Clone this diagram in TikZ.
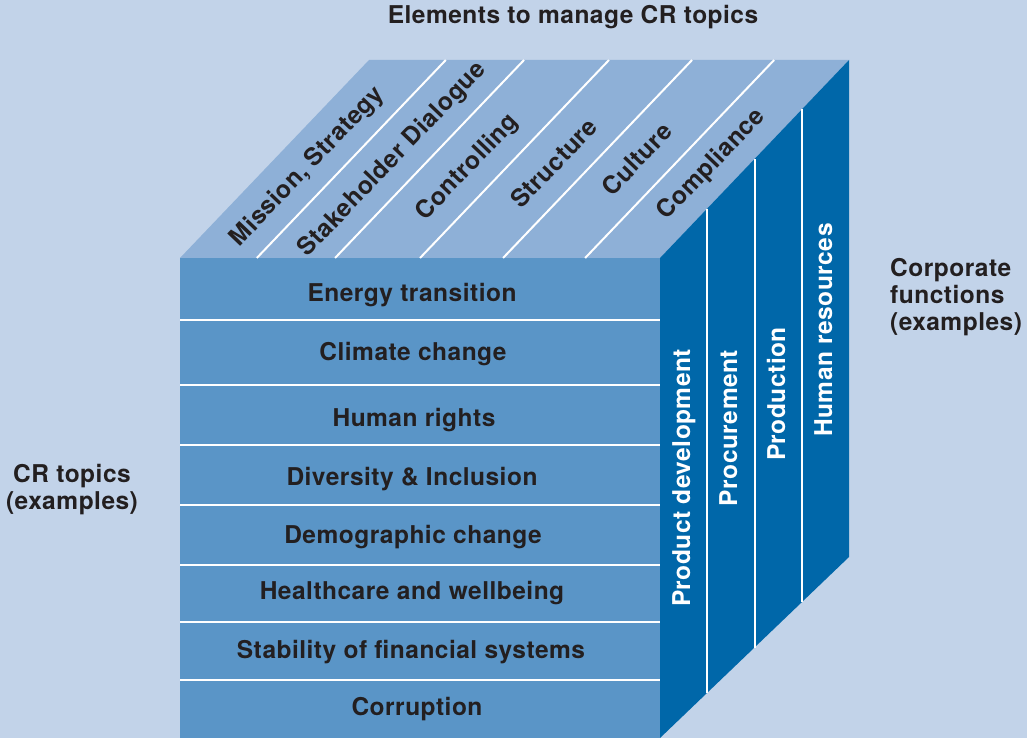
\documentclass[tikz,border=0pt]{standalone}
\usepackage{fontspec}
\setmainfont{TeX Gyre Heros}[LetterSpace=2.0]
\usepackage{tikz}
\usetikzlibrary{positioning,calc}
\definecolor{bgblue}{HTML}{C2D3E9}
\definecolor{topblue}{HTML}{8EB0D7}
\definecolor{frontblue}{HTML}{5A95C7}
\definecolor{sideblue}{HTML}{0067A9}
\definecolor{inkdark}{HTML}{231F20}

\begin{document}
\begin{tikzpicture}[x=1pt,y=-1pt]
		\tikzstyle{every node}+=[inner sep=0pt, font=\fontsize{24.5}{27}\selectfont\bfseries]
		\tikzstyle{topic}=[text=inkdark, anchor=base]
		\tikzstyle{element}=[text=inkdark, rotate=46.3, text height=17pt, text depth=5pt]
		\tikzstyle{function}=[text=white, rotate=90, text height=17pt, text depth=5pt]
		\tikzstyle{stripe}=[white, line width=2pt]
		\fill [bgblue] (0,0) rectangle (1027,738);
		\useasboundingbox (0,0) rectangle (1027,738);
		\coordinate (ftl) at (180,258);
		\coordinate (ftr) at (660,258);
		\coordinate (fbr) at (660,738);
		\coordinate (btl) at (369,60);
		\coordinate (btr) at (849,60);
		\coordinate (bbr) at (849,557);
		\fill [topblue] (ftl) -- (btl) -- (btr) -- (ftr) -- cycle;
		\fill [frontblue] (ftl) rectangle (fbr);
		\fill [sideblue] (ftr) -- (btr) -- (bbr) -- (fbr) -- cycle;
		\foreach \y in {320,385,445,505,565,622,680}
			\draw [stripe] (180,\y) -- (660,\y);
		\foreach \t in {0.160,0.323,0.5,0.673,0.844}
			\draw [stripe] ($(ftl)!\t!(ftr)$) -- ($(btl)!\t!(btr)$);
		\foreach \t in {0.25,0.5,0.75}
			\draw [stripe] ($(ftr)!\t!(btr)$) -- ($(fbr)!\t!(bbr)$);
		\node [topic] (energy) at (412,301) {Energy transition};
		\node [topic] (climate) at (413,360) {Climate change};
		\node [topic] (rights) at (414,426) {Human rights};
		\node [topic] (diversity) at (412,485) {Diversity \& Inclusion};
		\node [topic] (demographic) at (413,543) {Demographic change};
		\node [topic] (health) at (412,599) {Healthcare and wellbeing};
		\node [topic] (stability) at (411,658) {Stability of financial systems};
		\node [topic] (corruption) at (417,715) {Corruption};
		\node [element] (mission) at (308,167) {Mission, Strategy};
		\node [element] (dialogue) at (393,160) {Stakeholder Dialogue};
		\node [element] (controlling) at (468,168) {Controlling};
		\node [element] (structure) at (556,165) {Structure};
		\node [element] (culture) at (639,161) {Culture};
		\node [element] (compliance) at (712,165) {Compliance};
		\node [function] (product) at (684,478) {Product development};
		\node [function] (procurement) at (731,428) {Procurement};
		\node [function] (production) at (779,394) {Production};
		\node [function] (human) at (826,330) {Human resources};
		\node [topic] (elements) at (573,24) {Elements to manage CR topics};
		\node [text=inkdark, align=center] (crtopics) at (72,490) {CR topics\\(examples)};
		\node [text=inkdark, align=left, anchor=west] (corporate) at (890,297) {Corporate\\functions\\(examples)};
\end{tikzpicture}
\end{document}
